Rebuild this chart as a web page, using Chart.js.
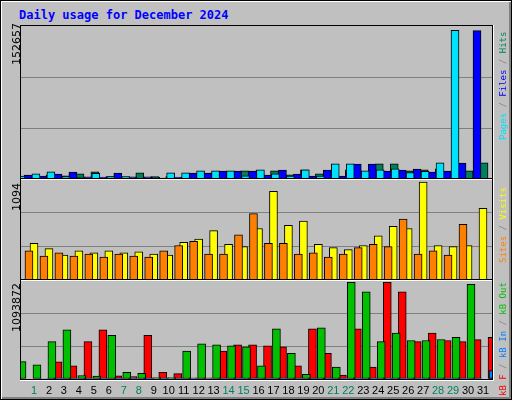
<!DOCTYPE html>
<html>
<head>
<meta charset="utf-8">
<script src="https://cdn.jsdelivr.net/npm/chart.js@4"></script>
<style>
  body { margin: 0; }
  #wrap { position: relative; width: 510px; height: 398px; background: #c0c0c0;
          border: 1px solid #000; box-shadow: inset 1px 1px 0 #fff, inset -2px -2px 0 #808080; }
  canvas { position: absolute; left: 0; top: 0; }
  .t { position: absolute; font-family: "DejaVu Sans Mono", monospace; white-space: nowrap; }
  .rot { position: absolute; transform-origin: 0 0; transform: rotate(-90deg);
         white-space: nowrap; font-size: 9px; }
  .g { color: #808080; }
</style>
</head>
<body>
<div id="wrap">
  <div class="t" style="left:18px;top:7px;font-size:12px;font-weight:bold;color:#0000ff">Daily usage for December 2024</div>
  <canvas id="c" width="512" height="400"></canvas>
  <div class="rot" style="left:9px;top:64px;font-family:'DejaVu Sans';font-size:11px">152657</div>
  <div class="rot" style="left:9px;top:210px;font-family:'DejaVu Sans';font-size:11px">1094</div>
  <div class="rot" style="left:9px;top:331px;font-family:'DejaVu Sans';font-size:11px">1093872</div>
  <div class="rot t" style="left:497px;top:139px"><span style="color:#00e0ff">Pages</span><span class="g"> / </span><span style="color:#0000ff">Files</span><span class="g"> / </span><span style="color:#00805c">Hits</span></div>
  <div class="rot t" style="left:497px;top:262px"><span style="color:#ff8000">Sites</span><span class="g"> / </span><span style="color:#ffff00">Visits</span></div>
  <div class="rot t" style="left:497px;top:395px"><span style="color:#ff0000">kB F</span><span class="g"> / </span><span style="color:#0080ff">kB In</span><span class="g"> / </span><span style="color:#00c000">kB Out</span></div>
</div>
<script>
const days = Array.from({length: 31}, (_, i) => i + 1);
const weekendDays = [1, 7, 8, 14, 15, 21, 22, 28, 29];

const hits  = [4600,3500,5600,7700,2800,2600,6600,2800,2800,1500,2500,6600,6600,8700,8700,8700,4700,9700,5600,3500,9700,3500,15900,15900,8700,9700,10800,7700,8700,16900,152657];
const files = [4300,3300,5300,7400,2600,2300,6300,2600,2600,1300,2300,6300,6300,8400,8400,8400,4300,9400,5300,3300,9400,3300,15600,15600,8400,9400,10500,7400,8400,16600,152000];
const pages = [4400,3400,5500,7600,2700,2200,6000,2700,2700,1000,2000,6500,6500,8600,8600,8600,3600,9600,5500,3400,9600,3400,15800,15800,8600,9600,10700,7000,8100,16800,152400];

const visits = [411,352,280,328,304,328,304,316,292,280,423,458,553,399,375,577,991,612,660,399,363,340,387,494,600,577,1094,387,375,387,802];
const sites  = [387,328,269,304,269,292,257,292,269,257,328,387,434,292,292,506,743,411,411,292,304,257,292,363,399,375,683,292,328,280,624];

const kbOut = [195600,160000,423000,555000,40000,32000,495000,76000,64000,16000,16000,315000,399000,387000,375000,363000,148000,567000,291000,52000,579000,136000,1093872,986000,423000,519000,435000,435000,447000,471000,1070000];
const kbF   = [195000,148000,423000,555000,36000,28000,495000,76000,60000,14000,14000,315000,387000,387000,375000,363000,148000,567000,291000,44000,567000,136000,1093872,986000,423000,519000,435000,423000,445000,471000,1010000];
const kbIn  = [6000,4000,6000,6000,3000,3000,6000,3000,3000,2000,2000,6000,6000,6000,6000,6000,4000,6000,5000,3000,6000,4000,8000,8000,6000,6000,6000,6000,6000,6000,96000];

const maxHits = 152657, maxVisits = 1094, maxKB = 1093872;
const px = 1 / 14.97; // one pixel in day units

function series(values, shift) {
  return values.map((v, i) => ({x: days[i] + shift * px, y: v}));
}
function bars(values, shift, color, axis, order) {
  return {type: 'bar', data: series(values, shift), backgroundColor: color,
          borderColor: '#000', borderWidth: 1, borderSkipped: false,
          barThickness: 8, yAxisID: axis, order: order};
}
function yAxis(top, weight) {
  return {
    type: 'linear', position: 'left', stack: 'panels', stackWeight: weight,
    min: 0, max: top, offset: false,
    ticks: {display: false, stepSize: top / 3},
    grid: {drawTicks: false, color: c => (c.index === 1 || c.index === 2) ? '#808080' : 'rgba(0,0,0,0)'},
    border: {display: false},
    afterFit: s => { s.width = 0; }
  };
}

const frame = {
  id: 'frame',
  afterDraw(chart) {
    const ctx = chart.ctx, a = chart.chartArea;
    ctx.save();
    ctx.lineWidth = 1;
    ['y2', 'y3'].forEach(id => {
      const y = Math.round(chart.scales[id].top) + 0.5;
      ctx.strokeStyle = '#000';
      ctx.beginPath(); ctx.moveTo(a.left, y - 1); ctx.lineTo(a.right, y - 1); ctx.stroke();
      ctx.strokeStyle = '#fff';
      ctx.beginPath(); ctx.moveTo(a.left, y); ctx.lineTo(a.right, y); ctx.stroke();
    });
    ctx.strokeStyle = '#000';
    ctx.strokeRect(a.left - 0.5, a.top - 0.5, a.right - a.left + 1, a.bottom - a.top + 1);
    ctx.strokeStyle = '#fff';
    ctx.beginPath();
    ctx.moveTo(a.right + 1.5, a.top - 1); ctx.lineTo(a.right + 1.5, a.bottom + 1.5); ctx.lineTo(a.left - 1, a.bottom + 1.5);
    ctx.stroke();
    ctx.restore();
  }
};

new Chart(document.getElementById('c'), {
  data: {
    datasets: [
      bars(hits, -4, '#00805c', 'y1', 3),
      bars(files, -2, '#0000ff', 'y1', 2),
      bars(pages, 0, '#00e0ff', 'y1', 1),
      bars(visits, -4, '#ffff00', 'y2', 2),
      bars(sites, 0, '#ff8000', 'y2', 1),
      bars(kbF, -4, '#ff0000', 'y3', 3),
      bars(kbIn, -2, '#0080ff', 'y3', 2),
      bars(kbOut, 0, '#00c000', 'y3', 1)
    ]
  },
  options: {
    responsive: false, animation: false,
    layout: {padding: {left: 20, right: 21, top: 25, bottom: 0}},
    plugins: {legend: {display: false}, tooltip: {enabled: false}},
    scales: {
      x: {
        type: 'linear', min: 1 - 13 * px, max: 31 + 9 * px, offset: false,
        afterBuildTicks: s => { s.ticks = days.map(d => ({value: d})); },
        ticks: {
          font: {family: 'Liberation Sans', size: 11}, padding: 5, maxRotation: 0, autoSkip: false,
          color: c => weekendDays.includes(c.tick.value) ? '#008060' : '#000'
        },
        grid: {display: false, drawTicks: false}, border: {display: false},
        afterFit: s => { s.height = 22; }
      },
      y3: yAxis(maxKB * 280 / 274, 98),
      y2: yAxis(maxVisits * 285 / 277, 100),
      y1: yAxis(maxHits * 152 / 148, 152)
    }
  },
  plugins: [frame]
});
</script>
</body>
</html>
